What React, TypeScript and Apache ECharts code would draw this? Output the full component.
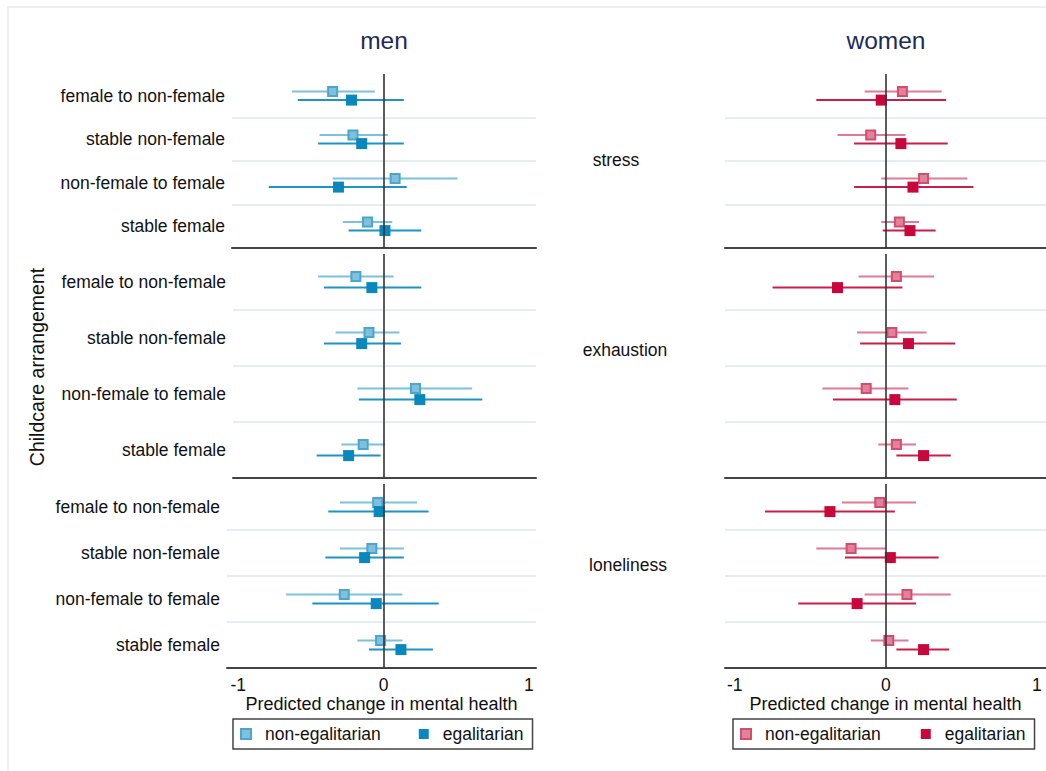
import React, { useEffect, useRef } from "react";
import * as echarts from "echarts";

const categories = ["female to non-female", "stable non-female", "non-female to female", "stable female"];
const outcomes = ["stress", "exhaustion", "loneliness"];
const genders = ["men", "women"];
const groups = ["non-egalitarian", "egalitarian"];
const xTicks = [-1, 0, 1];

// [estimate, lower, upper] per category
const menStressNonEgal = [[-0.35, -0.63, -0.06], [-0.21, -0.44, 0.03], [0.08, -0.35, 0.51], [-0.11, -0.28, 0.06]];
const menStressEgal = [[-0.22, -0.59, 0.14], [-0.15, -0.45, 0.14], [-0.31, -0.79, 0.16], [0.01, -0.24, 0.26]];
const menExhaustionNonEgal = [[-0.19, -0.45, 0.07], [-0.1, -0.33, 0.11], [0.22, -0.18, 0.61], [-0.14, -0.29, 0.01]];
const menExhaustionEgal = [[-0.08, -0.41, 0.26], [-0.15, -0.41, 0.12], [0.25, -0.17, 0.68], [-0.24, -0.46, -0.02]];
const menLonelinessNonEgal = [[-0.04, -0.3, 0.23], [-0.08, -0.3, 0.14], [-0.27, -0.67, 0.13], [-0.02, -0.18, 0.13]];
const menLonelinessEgal = [[-0.03, -0.38, 0.31], [-0.13, -0.4, 0.14], [-0.05, -0.49, 0.38], [0.12, -0.1, 0.34]];
const womenStressNonEgal = [[0.11, -0.14, 0.37], [-0.1, -0.32, 0.13], [0.25, -0.03, 0.54], [0.09, -0.03, 0.22]];
const womenStressEgal = [[-0.03, -0.46, 0.4], [0.1, -0.21, 0.41], [0.18, -0.21, 0.58], [0.16, -0.02, 0.33]];
const womenExhaustionNonEgal = [[0.07, -0.18, 0.32], [0.04, -0.19, 0.27], [-0.13, -0.42, 0.15], [0.07, -0.05, 0.2]];
const womenExhaustionEgal = [[-0.32, -0.75, 0.11], [0.15, -0.17, 0.46], [0.06, -0.35, 0.47], [0.25, 0.07, 0.43]];
const womenLonelinessNonEgal = [[-0.04, -0.29, 0.2], [-0.23, -0.46, 0.0], [0.14, -0.14, 0.43], [0.02, -0.1, 0.15]];
const womenLonelinessEgal = [[-0.37, -0.8, 0.06], [0.03, -0.27, 0.35], [-0.19, -0.58, 0.2], [0.25, 0.07, 0.42]];

const FONT = "'Liberation Sans', Arial, sans-serif";

export default function App() {
  const ref = useRef<HTMLDivElement>(null);
  useEffect(() => {
    if (!ref.current) return;
    const chart = echarts.init(ref.current, null, { renderer: "svg" });

    const dataMap: any = {
      men: {
        stress: [menStressNonEgal, menStressEgal],
        exhaustion: [menExhaustionNonEgal, menExhaustionEgal],
        loneliness: [menLonelinessNonEgal, menLonelinessEgal],
      },
      women: {
        stress: [womenStressNonEgal, womenStressEgal],
        exhaustion: [womenExhaustionNonEgal, womenExhaustionEgal],
        loneliness: [womenLonelinessNonEgal, womenLonelinessEgal],
      },
    };

    const panelTop = [74, 254, 484];
    const panelBottom = [248, 478, 668];
    const gridLeft = { men: [232, 233, 227], women: [725, 725, 725] };
    const gridRightEdge = { men: 536, women: 1046 };
    const zeroPx = { men: 383.5, women: 885.8 };
    const pxPerUnit = { men: 145.3, women: 151 };

    const colors: any = {
      men: {
        line: ["#7cc2dc", "#1f93c5"],
        fill: ["#80c0dc", "#0a88bd"],
        border: ["#4aa6cc", "#0a88bd"],
      },
      women: {
        line: ["#e07b95", "#c91e48"],
        fill: ["#e0829c", "#c8083c"],
        border: ["#d24d70", "#c8083c"],
      },
    };

    const grids: any[] = [];
    const xAxes: any[] = [];
    const yAxes: any[] = [];
    const series: any[] = [];

    genders.forEach((g, gi) => {
      outcomes.forEach((o, oi) => {
        const gIdx = grids.length;
        const left = (gridLeft as any)[g][oi];
        const rightEdge = (gridRightEdge as any)[g];
        grids.push({
          left,
          width: rightEdge - left,
          top: panelTop[oi],
          height: panelBottom[oi] - panelTop[oi],
          containLabel: false,
        });
        const z0 = (zeroPx as any)[g];
        const ppu = (pxPerUnit as any)[g];
        const isBottom = oi === outcomes.length - 1;
        xAxes.push({
          type: "value",
          gridIndex: gIdx,
          position: "bottom",
          min: -(z0 - left) / ppu,
          max: (rightEdge - z0) / ppu,
          axisLine: { show: true, onZero: false, lineStyle: { color: "#444", width: 2 } },
          axisTick: { show: false },
          splitLine: { show: false },
          axisLabel: {
            show: isBottom,
            customValues: xTicks,
            margin: 8,
            fontSize: 17.5,
            color: "#111",
            fontFamily: FONT,
          },
          name: isBottom ? "Predicted change in mental health" : "",
          nameLocation: "middle",
          nameGap: 25,
          nameTextStyle: { fontSize: 18, color: "#111", fontFamily: FONT },
        });
        const yValIdx = yAxes.length;
        yAxes.push({
          type: "value",
          gridIndex: gIdx,
          position: "left",
          min: 0,
          max: 4,
          inverse: true,
          show: false,
        });
        yAxes.push({
          type: "category",
          gridIndex: gIdx,
          position: "left",
          data: categories,
          inverse: true,
          show: gi === 0,
          axisLine: { show: false, onZero: false },
          axisTick: { show: false },
          splitLine: { show: false },
          axisLabel: { margin: 7, fontSize: 17.5, color: "#111", fontFamily: FONT },
        });

        // separators and zero reference line
        series.push({
          type: "scatter",
          xAxisIndex: gIdx,
          yAxisIndex: yValIdx,
          data: [[0, 0]],
          symbolSize: 0,
          silent: true,
          z: 1,
          markLine: {
            silent: true,
            symbol: ["none", "none"],
            label: { show: false },
            data: [
              { yAxis: 1, lineStyle: { color: "#e6edf0", width: 2, type: "solid" } },
              { yAxis: 2, lineStyle: { color: "#e6edf0", width: 2, type: "solid" } },
              { yAxis: 3, lineStyle: { color: "#e6edf0", width: 2, type: "solid" } },
              { xAxis: 0, lineStyle: { color: "#333", width: 1.6, type: "solid" } },
            ],
          },
        });

        const pair = dataMap[g][o];
        groups.forEach((grp, k) => {
          const offset = k === 0 ? -0.1 : 0.1;
          const rows = pair[k];
          const ciData = rows.map((r: number[], i: number) => [r[1], r[2], i + 0.5 + offset]);
          const ptData = rows.map((r: number[], i: number) => [r[0], i + 0.5 + offset]);
          const lineColor = colors[g].line[k];
          series.push({
            type: "custom",
            name: grp,
            xAxisIndex: gIdx,
            yAxisIndex: yValIdx,
            z: 2,
            silent: true,
            encode: { x: [0, 1], y: 2 },
            data: ciData,
            renderItem: (params: any, api: any) => {
              const y = api.value(2);
              const p1 = api.coord([api.value(0), y]);
              const p2 = api.coord([api.value(1), y]);
              return {
                type: "line",
                shape: { x1: p1[0], y1: p1[1], x2: p2[0], y2: p2[1] },
                style: { stroke: lineColor, lineWidth: 2 },
              };
            },
          });
          series.push({
            type: "scatter",
            name: grp,
            xAxisIndex: gIdx,
            yAxisIndex: yValIdx,
            z: 3,
            symbol: "rect",
            symbolSize: k === 0 ? 9 : 11,
            itemStyle: {
              color: colors[g].fill[k],
              borderColor: colors[g].border[k],
              borderWidth: k === 0 ? 2 : 0,
              opacity: 1,
            },
            data: ptData,
          });
        });
      });
    });

    const legendBase = (g: string, left: number, gap: number) => ({
      left,
      top: 719,
      orient: "horizontal",
      selectedMode: false,
      icon: "rect",
      itemWidth: 10,
      itemHeight: 10,
      itemGap: gap,
      borderColor: "#444",
      borderWidth: 1.5,
      borderRadius: 0,
      padding: [6, 9, 6, 7],
      textStyle: { fontSize: 17.5, color: "#111", fontFamily: FONT, padding: [0, 0, 0, 9] },
      data: groups.map((grp, k) => ({
        name: grp,
        icon: "rect",
        itemStyle: {
          color: colors[g].fill[k],
          borderColor: colors[g].border[k],
          borderWidth: k === 0 ? 2 : 0,
          opacity: 1,
        },
      })),
    });

    const option: any = {
      animation: false,
      backgroundColor: "#fff",
      textStyle: { fontFamily: FONT },
      grid: grids,
      xAxis: xAxes,
      yAxis: yAxes,
      series,
      legend: [legendBase("men", 233, 38), legendBase("women", 733, 40)],
      graphic: [
        {
          type: "rect",
          silent: true,
          shape: { x: 8, y: 7, width: 1060, height: 800 },
          style: { fill: "none", stroke: "#e8ecea", lineWidth: 1.5 },
          z: -10,
        },
        { type: "text", x: 384, y: 40, style: { text: genders[0], font: `24.5px ${FONT}`, fill: "#1e2b55", textAlign: "center", textVerticalAlign: "middle" } },
        { type: "text", x: 886, y: 40, style: { text: genders[1], font: `24.5px ${FONT}`, fill: "#1e2b55", textAlign: "center", textVerticalAlign: "middle" } },
        { type: "text", x: 616, y: 160, style: { text: outcomes[0], font: `17.5px ${FONT}`, fill: "#111", textAlign: "center", textVerticalAlign: "middle" } },
        { type: "text", x: 625, y: 350, style: { text: outcomes[1], font: `17.5px ${FONT}`, fill: "#111", textAlign: "center", textVerticalAlign: "middle" } },
        { type: "text", x: 628, y: 565, style: { text: outcomes[2], font: `17.5px ${FONT}`, fill: "#111", textAlign: "center", textVerticalAlign: "middle" } },
        {
          type: "text",
          x: 37,
          y: 367,
          rotation: Math.PI / 2,
          style: { text: "Childcare arrangement", font: `19.5px ${FONT}`, fill: "#111", textAlign: "center", textVerticalAlign: "middle" },
        },
      ],
    };

    chart.setOption(option);
    return () => chart.dispose();
  }, []);

  return <div ref={ref} style={{ position: "absolute", left: 0, top: 0, width: 1046, height: 771 }} />;
}
